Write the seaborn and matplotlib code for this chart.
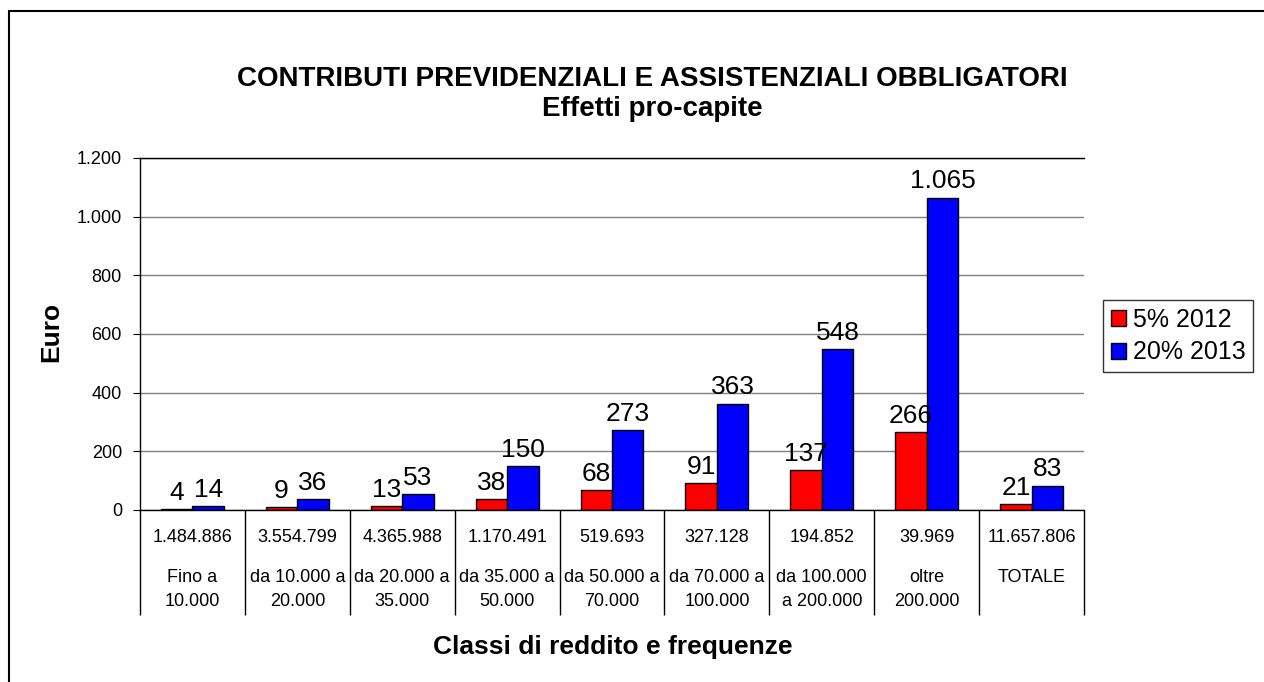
import pandas as pd
import numpy as np
import matplotlib.pyplot as plt
import seaborn as sns
from matplotlib.ticker import FuncFormatter
from matplotlib.patches import Rectangle

# Data
classi = ["Fino a\n10.000", "da 10.000 a\n20.000", "da 20.000 a\n35.000",
          "da 35.000 a\n50.000", "da 50.000 a\n70.000", "da 70.000 a\n100.000",
          "da 100.000\na 200.000", "oltre\n200.000", "TOTALE"]
frequenze = ["1.484.886", "3.554.799", "4.365.988", "1.170.491", "519.693",
             "327.128", "194.852", "39.969", "11.657.806"]
serie = ["5% 2012", "20% 2013"]
valori_2012 = [4, 9, 13, 38, 68, 91, 137, 266, 21]
valori_2013 = [14, 36, 53, 150, 273, 363, 548, 1065, 83]

df = pd.DataFrame({
    "classe": classi * 2,
    "serie": [serie[0]] * len(classi) + [serie[1]] * len(classi),
    "euro": valori_2012 + valori_2013,
})

def it_fmt(v, pos=None):
    return f"{int(round(v)):,}".replace(",", ".")

sns.set_style("white")
plt.rcParams["font.family"] = ["Liberation Sans", "DejaVu Sans"]
plt.rcParams["text.color"] = "black"
plt.rcParams["axes.labelcolor"] = "black"
plt.rcParams["xtick.color"] = "black"
plt.rcParams["ytick.color"] = "black"

fig = plt.figure(figsize=(12.64, 6.82), dpi=100)
ax = fig.add_axes([140 / 1264, 1 - 510 / 682, 944 / 1264, 352 / 682])

sns.barplot(data=df, x="classe", y="euro", hue="serie", hue_order=serie,
            palette=["#ff0000", "#0000ff"], width=0.6, edgecolor="black",
            linewidth=1, saturation=1, ax=ax, legend=True)

for cont in ax.containers:
    ax.bar_label(cont, labels=[it_fmt(b.get_height()) for b in cont],
                 fontsize=19, padding=3)

ax.set_ylim(0, 1200)
ax.set_yticks(np.arange(0, 1201, 200))
ax.yaxis.set_major_formatter(FuncFormatter(it_fmt))
ax.yaxis.grid(True, color="#808080", linewidth=1)
ax.set_axisbelow(True)
ax.tick_params(axis="y", length=5, width=0.8, labelsize=13, left=True,
               color="black", pad=8)
ax.tick_params(axis="x", bottom=False, labelbottom=False)
ax.set_xlim(-0.5, len(classi) - 0.5)
ax.spines["right"].set_visible(False)
for s in ["left", "bottom", "top"]:
    ax.spines[s].set_color("black")
    ax.spines[s].set_linewidth(1)
ax.set_xlabel("")
ax.set_ylabel("")

# table under the axis
trans = ax.get_xaxis_transform()
depth = -(615 - 510) / 352
ax.vlines(np.arange(-0.5, len(classi), 1), depth, 0, transform=trans,
          colors="black", linewidth=1, clip_on=False)
for i, (fr, cl) in enumerate(zip(frequenze, classi)):
    ax.text(i, -(537 - 510) / 352, fr, transform=trans, ha="center",
            va="center", fontsize=13)
    lines = cl.split("\n")
    for j, ln in enumerate(lines):
        ax.text(i, -(577 + 24 * j - 510) / 352, ln, transform=trans,
                ha="center", va="center", fontsize=13)

# legend
ax.get_legend().remove()
handles = [plt.Rectangle((0, 0), 1, 1, facecolor=c, edgecolor="black")
           for c in ["#ff0000", "#0000ff"]]
leg = fig.legend(handles, serie, loc="center left",
                 bbox_to_anchor=(1103 / 1264, 1 - 336 / 682), fontsize=18,
                 frameon=True, fancybox=False, edgecolor="black",
                 handlelength=0.6, handleheight=0.6, handletextpad=0.3,
                 borderpad=0.3, labelspacing=0.35, borderaxespad=0)
leg.get_frame().set_linewidth(1)

fig.text(652 / 1264, 1 - 79 / 682, "CONTRIBUTI PREVIDENZIALI E ASSISTENZIALI OBBLIGATORI",
         ha="center", va="center", fontsize=20, fontweight="bold")
fig.text(652 / 1264, 1 - 109 / 682, "Effetti pro-capite",
         ha="center", va="center", fontsize=20, fontweight="bold")
fig.text(51 / 1264, 1 - 332 / 682, "Euro", rotation=90, ha="center",
         va="center", fontsize=19, fontweight="bold")
fig.text(613 / 1264, 1 - 647 / 682, "Classi di reddito e frequenze",
         ha="center", va="center", fontsize=19, fontweight="bold")

fig.patches.append(Rectangle((9 / 1264, -0.01), 1, 1 - 11 / 682 + 0.01,
                             transform=fig.transFigure, fill=False,
                             edgecolor="black", linewidth=1.5))

fig.savefig("out.png", dpi=100)
